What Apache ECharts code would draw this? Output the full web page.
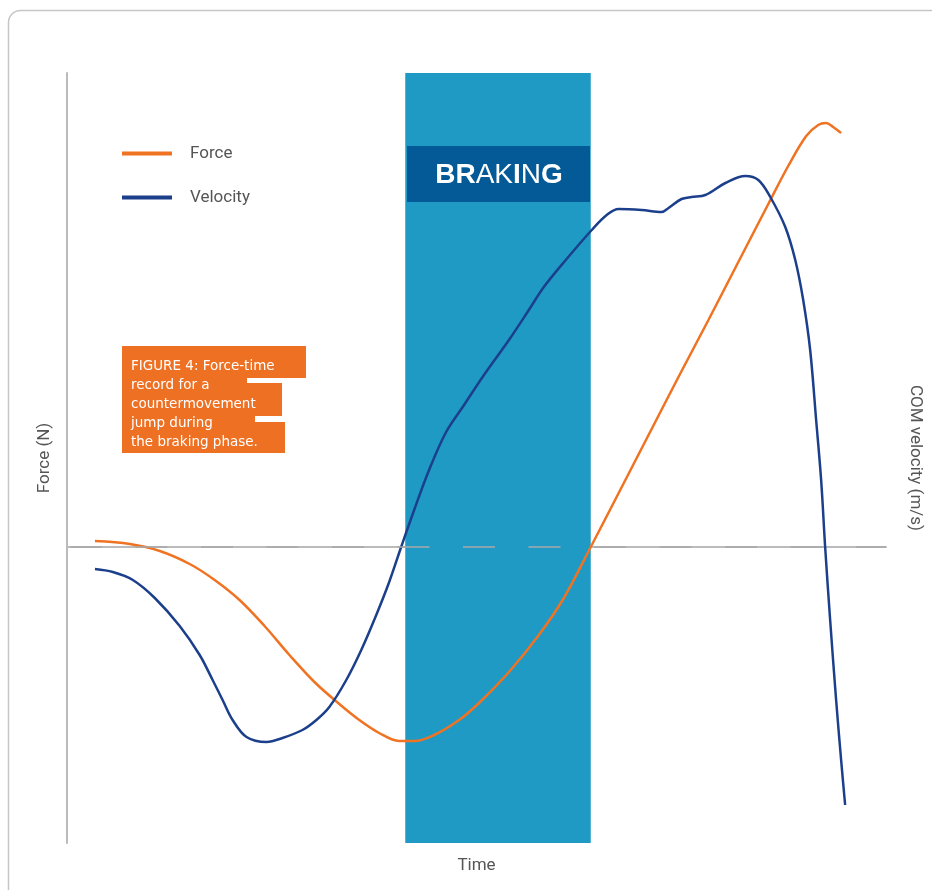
<!DOCTYPE html>
<html>
<head>
<meta charset="utf-8">
<script src="https://cdn.jsdelivr.net/npm/echarts@6/dist/echarts.min.js"></script>
<style>html,body{margin:0;padding:0;background:#fff;overflow:hidden}#c{width:932px;height:890px}</style>
</head>
<body>
<div id="c"></div>
<script>
// Time in % of record; values in relative units (0 = baseline)
const forceTime = [3.41, 7.67, 11.33, 14.98, 18.03, 21.07, 24.12, 27.16, 30.21, 33.25, 35.69, 38.12, 40.56, 42.39, 44.82, 47.87, 50.30, 53.96, 57.61, 60.66, 63.95, 67.36, 71.01, 74.66, 78.32, 81.97, 85.63, 88.06, 90.26, 91.72, 92.69, 93.54, 94.52];
const forceValues = [6, 3, -4, -17, -33, -53, -79, -108, -135, -157, -173, -186, -194, -194, -188, -173, -156, -125, -88, -51, 0, 54, 112, 170, 227, 285, 343, 381, 411, 422, 424, 420, 414];
const velTime = [3.41, 5.60, 8.04, 10.72, 13.76, 16.20, 17.78, 19.00, 20.22, 21.92, 24.36, 26.31, 28.75, 30.45, 32.03, 34.10, 35.93, 37.76, 39.34, 40.80, 42.39, 44.21, 46.29, 48.48, 50.91, 53.96, 56.39, 58.22, 60.90, 64.07, 65.90, 67.36, 70.16, 72.59, 73.45, 75.03, 76.25, 77.95, 80.39, 82.83, 84.41, 85.87, 87.70, 88.92, 89.89, 90.74, 91.47, 92.08, 92.57, 93.18, 93.91, 94.52, 95.01];
const velValues = [-22, -25, -33, -51, -79, -108, -133, -153, -173, -190, -195, -191, -183, -173, -160, -133, -103, -68, -35, 0, 37, 77, 115, 142, 172, 207, 237, 260, 287, 317, 332, 338, 337, 335, 339, 348, 350, 352, 364, 371, 367, 350, 320, 287, 247, 197, 127, 67, 0, -73, -153, -213, -258];
const brakingPhase = [41.3, 63.95];
const seriesNames = ['Force', 'Velocity'];
const captionLines = ['FIGURE 4: Force-time', 'record for a', 'countermovement', 'jump during', 'the braking phase.'];

const zip = (a, b) => a.map((x, i) => [x, b[i]]);
const chart = echarts.init(document.getElementById('c'), null, {renderer: 'canvas', width: 932, height: 890});
const FONT = 'Roboto, "Noto Sans", sans-serif';
chart.setOption({
  animation: false,
  backgroundColor: '#fff',
  grid: {left: 67, right: 38, top: 73, bottom: 47},
  legend: {
    orient: 'vertical', left: 117, top: 140, itemWidth: 50, itemHeight: 4, itemGap: 27,
    icon: 'rect',
    textStyle: {fontFamily: FONT, fontSize: 17, color: '#555', padding: [0, 0, 0, 13]},
    data: seriesNames
  },
  xAxis: {
    type: 'value', min: 0, max: 100,
    name: 'Time', nameLocation: 'middle', nameGap: 14,
    nameTextStyle: {fontFamily: FONT, fontSize: 17, color: '#555', verticalAlign: 'top'},
    axisLine: {show: true, lineStyle: {color: '#bbb', width: 2}},
    axisTick: {show: false}, axisLabel: {show: false}, splitLine: {show: false}
  },
  yAxis: [{
    type: 'value', min: -296, max: 474,
    name: 'Force (N)', nameLocation: 'middle', nameGap: 14,
    nameTextStyle: {fontFamily: FONT, fontSize: 17, color: '#555'},
    axisLine: {show: true, lineStyle: {color: '#bbb', width: 2}},
    axisTick: {show: false}, axisLabel: {show: false}, splitLine: {show: false}
  }, {
    type: 'value', min: -296, max: 474, position: 'right',
    name: 'COM velocity (m/s)', nameLocation: 'middle', nameGap: 21, nameRotate: -90,
    nameTextStyle: {fontFamily: FONT, fontSize: 17, color: '#555'},
    axisLine: {show: false}, axisTick: {show: false}, axisLabel: {show: false}, splitLine: {show: false}
  }],
  series: [{
    type: 'line', name: '_braking', data: [], z: 1, silent: true,
    markArea: {
      silent: true,
      itemStyle: {color: '#1e9ac5', opacity: 1},
      data: [[{xAxis: brakingPhase[0]}, {xAxis: brakingPhase[1]}]]
    }
  }, {
    type: 'line', name: seriesNames[0], data: zip(forceTime, forceValues),
    smooth: 0.35, showSymbol: false, z: 4,
    lineStyle: {color: '#ef7322', width: 2.5}, itemStyle: {color: '#ef7322'},
    markLine: {
      silent: true, symbol: 'none', label: {show: false},
      lineStyle: {color: '#a9a9a9', width: 1.5, type: [32, 33.5], dashOffset: 62.5},
      data: [{yAxis: 0}]
    }
  }, {
    type: 'line', name: seriesNames[1], data: zip(velTime, velValues),
    smooth: 0.35, showSymbol: false, z: 4,
    lineStyle: {color: '#1c3f8c', width: 2.5}, itemStyle: {color: '#1c3f8c'}
  }],
  graphic: [
    {type: 'rect', z: -10, silent: true,
     shape: {x: 8.5, y: 10.5, width: 980, height: 920, r: 12},
     style: {fill: 'none', stroke: '#c6c6c6', lineWidth: 1.5}},
    {type: 'rect', z: 10, shape: {x: 407, y: 146, width: 183, height: 56},
     style: {fill: '#045a97'}},
    {type: 'text', z: 11, x: 499, y: 175,
     style: {
       text: '{b|BR}{t|AK}{b|I}{t|N}{b|G}',
       align: 'center', verticalAlign: 'middle',
       rich: {
         b: {fontFamily: '"Liberation Sans", Arial, sans-serif', fontSize: 28, fontWeight: 'bold', fill: '#fff'},
         t: {fontFamily: '"Liberation Sans", Arial, sans-serif', fontSize: 28, fontWeight: 'normal', fill: '#fff'}
       }
     }},
    {type: 'polygon', z: 10,
     shape: {points: [[122,346],[306,346],[306,378],[247,378],[247,383],[282,383],[282,416],[255,416],[255,422],[285,422],[285,453],[122,453]]},
     style: {fill: '#ee7023'}},
    {type: 'text', z: 11, x: 131, y: 357,
     style: {text: captionLines.join('\n'), fontFamily: '"DejaVu Sans", sans-serif', fontSize: 13.5, lineHeight: 19, fill: '#fff', verticalAlign: 'top'}}
  ]
});
</script>
</body>
</html>
